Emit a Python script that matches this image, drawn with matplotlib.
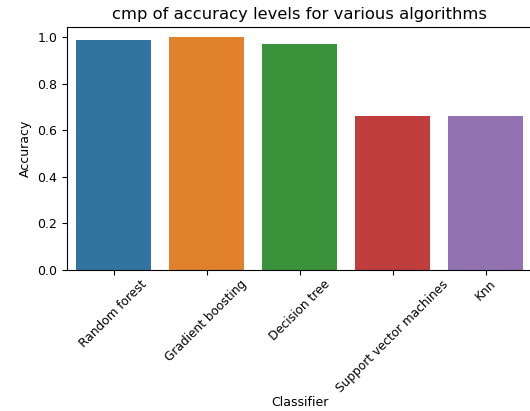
import matplotlib
matplotlib.use('Agg')
import matplotlib.pyplot as plt
import seaborn as sns

# 分类器及其准确率
classifiers = ['Random forest', 'Gradient boosting', 'Decision tree',
               'Support vector machines', 'Knn']
accuracy = [0.987, 1.0, 0.972, 0.661, 0.661]

fig = plt.figure(figsize=(5.3, 4.11), dpi=100)
ax = fig.add_axes([67 / 530, 1 - 270 / 411, (532 - 67) / 530, (270 - 27) / 411])

sns.barplot(x=classifiers, y=accuracy, hue=classifiers, palette='tab10',
            legend=False, ax=ax)

ax.set_ylim(0, 1.045)
ax.set_title('cmp of accuracy levels for various algorithms', fontsize=11.8)
ax.set_xlabel('Classifier', fontsize=9, labelpad=1)
ax.set_ylabel('Accuracy', fontsize=9)
ax.tick_params(axis='y', labelsize=9)
ax.tick_params(axis='x', labelsize=8.7, pad=2)
plt.setp(ax.get_xticklabels(), rotation=45)

plt.savefig('out.png', dpi=100)
